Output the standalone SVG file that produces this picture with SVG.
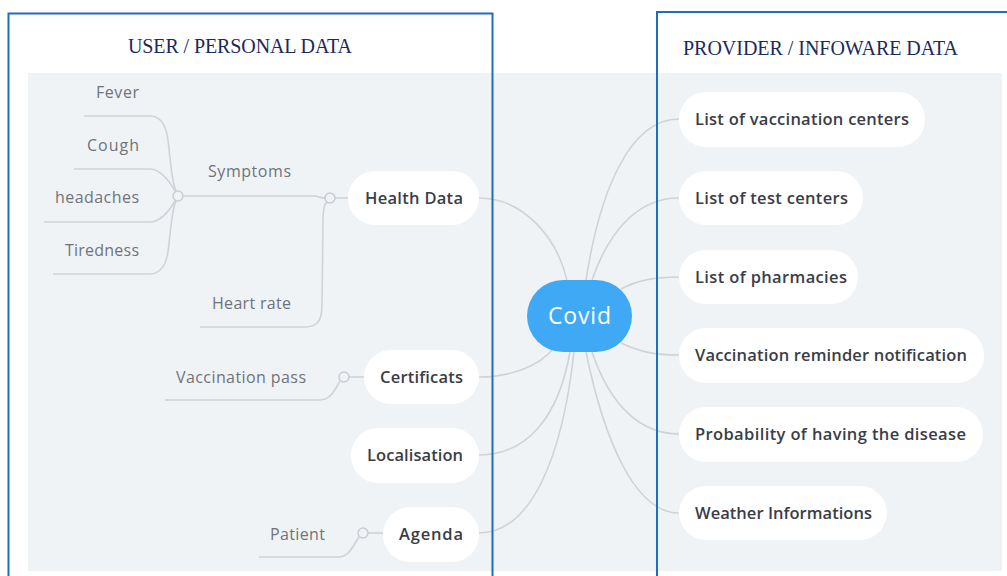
<svg xmlns="http://www.w3.org/2000/svg" width="1007" height="576" viewBox="0 0 1007 576">
<style>
.frame{fill:none;stroke:#1f6dbd;stroke-width:2}
.title{font-family:"Liberation Serif","Times New Roman",serif;font-size:20px;fill:#1b2a5a}
.pill{fill:#ffffff}
.node{font-family:"Open Sans","Liberation Sans",sans-serif;font-weight:600;font-size:16.5px;fill:#3a3d46}
.sub{font-family:"Open Sans","Liberation Sans",sans-serif;font-size:16px;fill:#6f7379}
.conn path{fill:none;stroke:#cfd2d6;stroke-width:1.6}
.knot{fill:#f0f3f6;stroke:#c9cdd1;stroke-width:1.5}
</style>
<rect x="0" y="0" width="1007" height="576" fill="#ffffff"/>
<rect x="28" y="73" width="974" height="498" fill="#f0f3f6"/>

<g id="connectors" class="conn">
  <path d="M479,198 C525,198 558,240 567,281"/>
  <path d="M479,377 C512,377 540,365 553,349"/>
  <path d="M479,455 C525,455 558,420 570,352"/>
  <path d="M479,533 C530,533 562,460 574,352"/>
  <path d="M586,280 C600,190 630,119 679,119"/>
  <path d="M592,280 C610,228 640,198 679,198"/>
  <path d="M621,289 C638,280 655,277 679,277"/>
  <path d="M621,343 C640,352 655,355 679,355"/>
  <path d="M592,352 C610,405 640,434 679,434"/>
  <path d="M586,352 C604,440 635,513 679,513"/>
  <path d="M84,116 L150,116 C160,116 166,125 168,140 C171,165 172,185 178,196"/>
  <path d="M74,169 L150,169 C162,169 172,185 178,196"/>
  <path d="M44,222 L150,222 C162,222 172,207 178,196"/>
  <path d="M53,274 L150,274 C160,274 166,265 168,252 C171,228 172,207 178,196"/>
  <path d="M183,196 L313,196 C319,196 321,198 325,198"/>
  <path d="M200,327 L305,327 C318,327 322,320 322,305 L323,220 C323,209 324,204 327,202"/>
  <path d="M335,198 L348,198"/>
  <path d="M165,400 L318,400 C328,400 332,395 336,388 L340,381"/>
  <path d="M349,377 L364,377"/>
  <path d="M259,557 L338,557 C346,557 350,552 354,545 L359,537"/>
  <path d="M368,533 L383,533"/>
</g>

<g id="knots">
  <circle class="knot" cx="178" cy="196" r="5"/>
  <circle class="knot" cx="330" cy="198" r="5"/>
  <circle class="knot" cx="344" cy="377" r="5"/>
  <circle class="knot" cx="363" cy="533" r="5"/>
</g>

<g id="frame-user">
  <rect class="frame" x="8.5" y="13.5" width="484" height="600"/>
  <text class="title" x="128" y="53" textLength="224">USER / PERSONAL DATA</text>
</g>
<g id="frame-provider">
  <rect class="frame" x="657" y="12" width="400" height="600"/>
  <text class="title" x="683" y="55" textLength="275">PROVIDER / INFOWARE DATA</text>
</g>

<g id="covid">
  <rect x="527" y="280" width="105" height="72" rx="36" fill="#40a9f6"/>
  <text x="548" y="324" textLength="63" font-family="Open Sans, Liberation Sans, sans-serif" font-size="23" fill="#ffffff">Covid</text>
</g>

<g id="health-data">
  <rect class="pill" x="348" y="171" width="131" height="54" rx="27"/>
  <text class="node" x="365" y="204" textLength="98">Health Data</text>
</g>
<g id="certificats">
  <rect class="pill" x="364" y="350" width="115" height="54" rx="27"/>
  <text class="node" x="380" y="383" textLength="83">Certificats</text>
</g>
<g id="localisation">
  <rect class="pill" x="351" y="428" width="128" height="55" rx="27"/>
  <text class="node" x="367" y="461" textLength="96">Localisation</text>
</g>
<g id="agenda">
  <rect class="pill" x="383" y="507" width="96" height="55" rx="27"/>
  <text class="node" x="399" y="540" textLength="64">Agenda</text>
</g>

<g id="symptoms"><text class="sub" x="208" y="177" textLength="83">Symptoms</text></g>
<g id="heart-rate"><text class="sub" x="212" y="309" textLength="79">Heart rate</text></g>
<g id="fever"><text class="sub" x="96" y="98" textLength="43">Fever</text></g>
<g id="cough"><text class="sub" x="87" y="151" textLength="52">Cough</text></g>
<g id="headaches"><text class="sub" x="55" y="203" textLength="84">headaches</text></g>
<g id="tiredness"><text class="sub" x="65" y="256" textLength="74">Tiredness</text></g>
<g id="vaccination-pass"><text class="sub" x="176" y="383" textLength="130">Vaccination pass</text></g>
<g id="patient"><text class="sub" x="270" y="540" textLength="55">Patient</text></g>

<g id="vaccination-centers">
  <rect class="pill" x="679" y="92" width="246" height="55" rx="27"/>
  <text class="node" x="695" y="125" textLength="214">List of vaccination centers</text>
</g>
<g id="test-centers">
  <rect class="pill" x="679" y="171" width="184" height="54" rx="27"/>
  <text class="node" x="695" y="204" textLength="153">List of test centers</text>
</g>
<g id="pharmacies">
  <rect class="pill" x="679" y="250" width="179" height="54" rx="27"/>
  <text class="node" x="695" y="283" textLength="152">List of pharmacies</text>
</g>
<g id="reminder">
  <rect class="pill" x="679" y="328" width="305" height="55" rx="27"/>
  <text class="node" x="695" y="361" textLength="272">Vaccination reminder notification</text>
</g>
<g id="probability">
  <rect class="pill" x="679" y="407" width="304" height="55" rx="27"/>
  <text class="node" x="695" y="440" textLength="271">Probability of having the disease</text>
</g>
<g id="weather">
  <rect class="pill" x="679" y="486" width="208" height="54" rx="27"/>
  <text class="node" x="695" y="519" textLength="177">Weather Informations</text>
</g>
</svg>
